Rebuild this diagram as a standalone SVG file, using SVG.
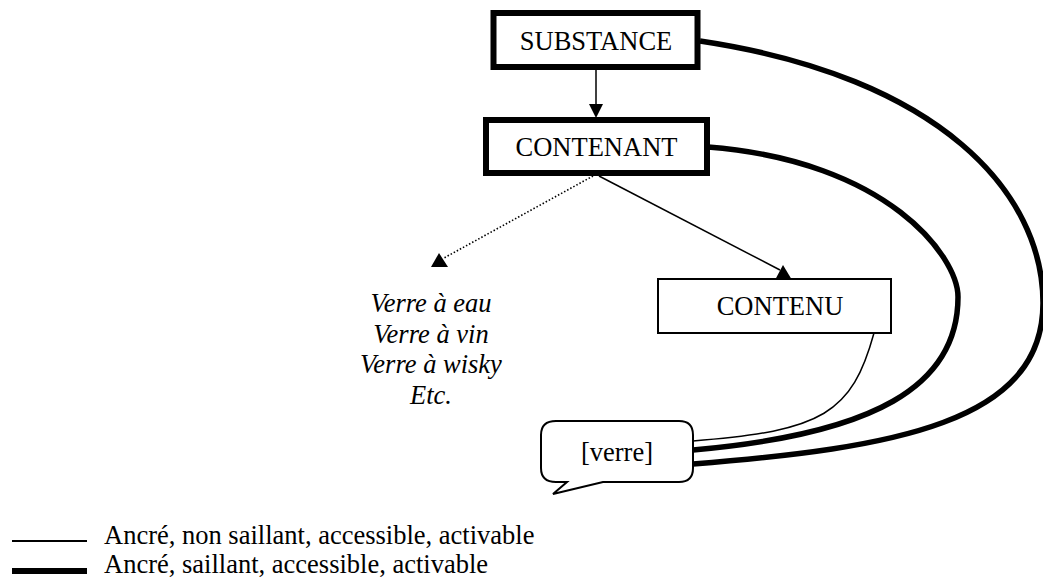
<svg xmlns="http://www.w3.org/2000/svg" width="1043" height="579" viewBox="0 0 1043 579">
<style>
text{font-family:"Liberation Serif","Times New Roman",serif;font-size:26.5px;fill:#000}
.mid{text-anchor:middle}
.it{font-style:italic}
.thickbox{fill:#fff;stroke:#000;stroke-width:6}
.thinbox{fill:#fff;stroke:#000;stroke-width:2}
.thin{fill:none;stroke:#000;stroke-width:1.5}
.thick{fill:none;stroke:#000;stroke-width:5.5}
.dot{fill:none;stroke:#000;stroke-width:1.6;stroke-dasharray:1.5 2}
</style>
<rect width="1043" height="579" fill="#fff"/>
<g id="connectors">
<line class="thin" x1="596" y1="70" x2="596" y2="105" stroke-width="2"/>
<polygon points="589,104 603,104 596,118"/>
<line class="dot" x1="593" y1="176" x2="444" y2="258"/>
<polygon points="439,253 431,267 448,267"/>
<line class="thin" x1="599" y1="176" x2="780" y2="270"/>
<polygon points="783,265 775,280 792,280"/>
<path class="thin" d="M874,333 C852,413 823,431 693,441"/>
<path class="thick" d="M708,147 C888,161 958,257 958,297 C958,387 873,434 693,450"/>
<path class="thick" d="M700,41 C940,77 1043,193 1043,303 C1043,423 893,448 693,464"/>
</g>
<g id="substance">
<rect class="thickbox" x="493.5" y="13" width="204" height="54"/>
<text class="mid" x="596" y="50">SUBSTANCE</text>
</g>
<g id="contenant">
<rect class="thickbox" x="486" y="120" width="221" height="53"/>
<text class="mid" x="596.5" y="156">CONTENANT</text>
</g>
<g id="contenu">
<rect class="thinbox" x="658" y="279" width="233" height="54"/>
<text class="mid" x="780" y="315">CONTENU</text>
</g>
<g id="exemples">
<text class="mid it" x="431" y="312">Verre à eau</text>
<text class="mid it" x="431" y="343">Verre à vin</text>
<text class="mid it" x="431" y="373">Verre à wisky</text>
<text class="mid it" x="431" y="404">Etc.</text>
</g>
<g id="verre">
<path class="thinbox" d="M556,421 H679 Q693,421 693,435 V468 Q693,482 679,482 H603 L553,494 L567,482 H556 Q541,482 541,468 V435 Q541,421 556,421 Z"/>
<text class="mid" x="617" y="461">[verre]</text>
</g>
<g id="legende">
<line x1="12" y1="541" x2="87" y2="541" stroke="#000" stroke-width="1.8"/>
<line x1="12" y1="571" x2="87" y2="571" stroke="#000" stroke-width="6"/>
<text x="104" y="544">Ancré, non saillant, accessible, activable</text>
<text x="104" y="573">Ancré, saillant, accessible, activable</text>
</g>
</svg>
